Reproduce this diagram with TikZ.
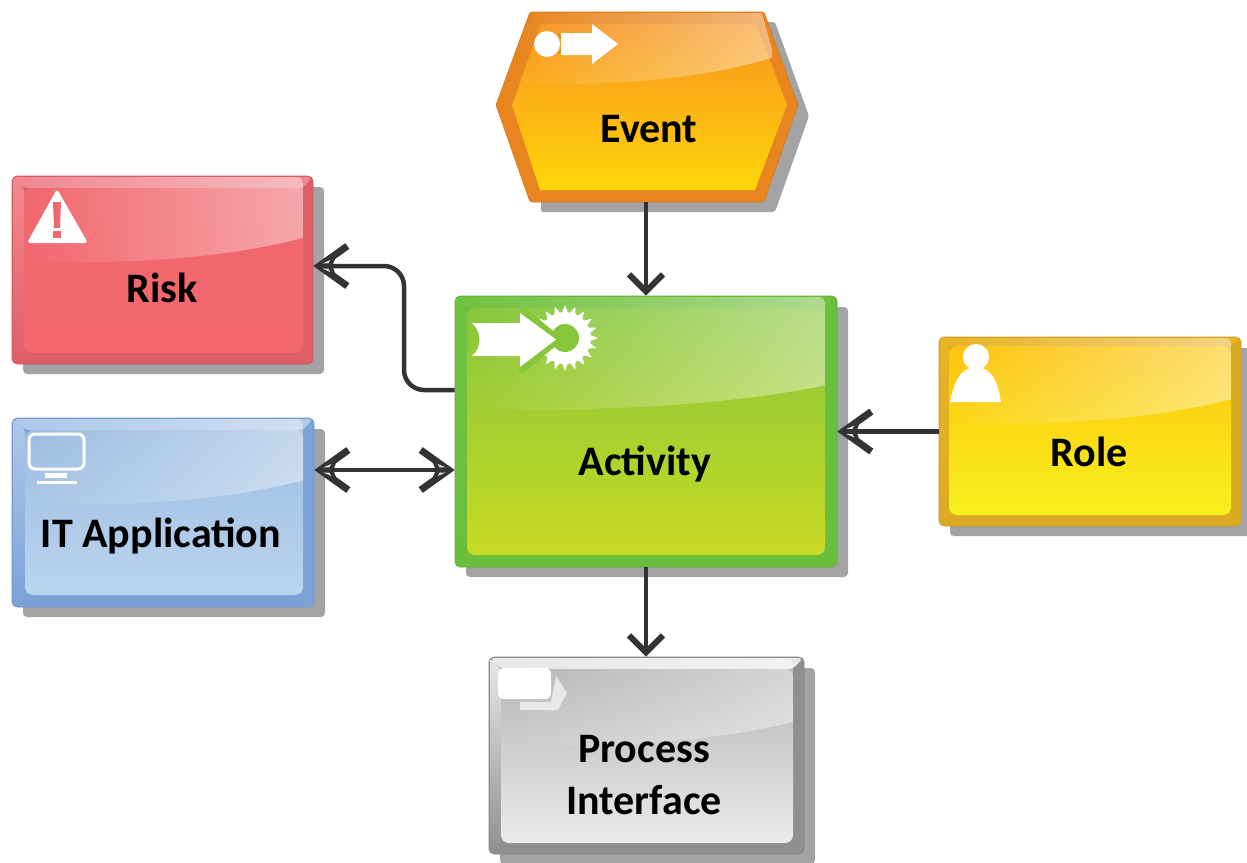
\documentclass[tikz,border=0pt]{standalone}
\usepackage{fontspec}
\setmainfont{Carlito}
\usetikzlibrary{arrows.meta,fadings,calc}
\definecolor{shadowC}{HTML}{A3A3A5}
\definecolor{lineC}{HTML}{333335}
% border, top strip, inner top, inner bottom
\definecolor{riskB}{HTML}{DD5F67}\definecolor{riskS}{HTML}{F08A90}\definecolor{riskU}{HTML}{F0686F}\definecolor{riskL}{HTML}{F2666C}
\definecolor{itB}{HTML}{7AA2D6}\definecolor{itS}{HTML}{AEC9E9}\definecolor{itU}{HTML}{9CBDE1}\definecolor{itL}{HTML}{BBD4EE}
\definecolor{actB}{HTML}{69BE3D}\definecolor{actS}{HTML}{72C240}\definecolor{actU}{HTML}{86C63A}\definecolor{actL}{HTML}{C9DA24}
\definecolor{roleB}{HTML}{DBAA22}\definecolor{roleS}{HTML}{E8B428}\definecolor{roleU}{HTML}{FDC40E}\definecolor{roleL}{HTML}{F8F11E}
\definecolor{pifB}{HTML}{8F8F8F}\definecolor{pifS}{HTML}{E8E8E8}\definecolor{pifU}{HTML}{B6B6B6}\definecolor{pifL}{HTML}{EBEBEB}
\definecolor{evB}{HTML}{E8851E}\definecolor{evS}{HTML}{F39A30}\definecolor{evU}{HTML}{F7931E}\definecolor{evL}{HTML}{FFD60A}
\tikzfading[name=glossfade,left color=transparent!100,middle color=transparent!78,right color=transparent!0]
\tikzset{
  x=1pt,y=-1pt,
  label text/.style={font=\bfseries\fontsize{42}{52}\selectfont,text=black,inner sep=0pt,align=center},
  conn/.style={draw=lineC,line width=4.5pt},
  hbarb/.tip={Straight Barb[length=28pt,width=40pt,line width=7pt]},
  vbarb/.tip={Straight Barb[length=17pt,width=34pt,line width=6pt]},
  shell/.style={rectangle,inner sep=0pt,rounded corners=5pt,draw=#1B!92!black,line width=0.6pt,fill=#1B},
  glossy/.style={fill=white,fill opacity=0.42,path fading=glossfade},
}
% name, outer x0 y0 x1 y1, inner x0 y0 x1 y1
\newcommand{\gbox}[9]{%
  \pgfmathsetmacro{\bw}{#4-#2}\pgfmathsetmacro{\bh}{#5-#3}%
  \pgfmathsetmacro{\cx}{(#2+#4)/2}\pgfmathsetmacro{\cy}{(#3+#5)/2}%
  \pgfmathsetmacro{\gy}{#3+0.33*\bh}%
  \pgfmathsetmacro{\gw}{#8-#6}%
  \fill[shadowC,rounded corners=4pt] (#2+11,#3+11) rectangle (#4+11,#5+10);
  \node[shell=#1,minimum width=\bw pt,minimum height=\bh pt] (#1) at (\cx,\cy) {};
  \fill[#1S,rounded corners=4pt] (#2+1,#3+1) -- (#4-1,#3+1) -- (#8,#7) -- (#6,#7) -- cycle;
  \shade[top color=#1S,bottom color=#1B,rounded corners=3pt] (#2+1,#3+1) -- (#6,#7) -- (#6,#9) -- (#2+1,#5-1) -- cycle;
  \shade[top color=#1U,bottom color=#1L,rounded corners=8pt] (#6,#7) rectangle (#8,#9);
  \begin{scope}
    \clip[rounded corners=6pt] (#6,#3+1) rectangle (#8,#9);
    \fill[glossy] (#6,#3) -- (#8,#3) -- (#8,\gy)
      .. controls (#8-0.28*\gw,\gy+20) and (#8-0.6*\gw,\gy+26) .. (#6,\gy+24) -- cycle;
  \end{scope}
}
% solid root of a sideways arrow head with its thin light slits: tip at #1, rotated by #2
\newcommand{\headroot}[2]{%
  \begin{scope}[shift={(#1)},rotate=#2]
    \fill[lineC] (2,0) -- (24,-13) -- (19,0) -- (24,13) -- cycle;
    \fill[white!85!lineC] (9,-2.6) -- (17,-6) -- (15,-2.6) -- cycle;
    \fill[white!85!lineC] (9,2.6) -- (17,6) -- (15,2.6) -- cycle;
  \end{scope}
}
\begin{document}
\begin{tikzpicture}
\useasboundingbox (0,0) rectangle (1247,862);
\fill[white] (0,0) rectangle (1247,862);

% Event (hexagon)
\fill[shadowC,rounded corners=2pt] (541,22) -- (775,22) -- (809,116) -- (775,212) -- (541,212) -- cycle;
\node[rectangle,minimum width=302pt,minimum height=190pt,inner sep=0pt] (ev) at (647,107) {};
\fill[evB,draw=evB!92!black,line width=0.6pt,rounded corners=1.5pt] (530,12) -- (764,12) -- (798,105) -- (764,202) -- (530,202) -- (496,105) -- cycle;
\shade[top color=evU,bottom color=evL] (541,24) -- (756,24) -- (787,105) -- (755,190) -- (540,190) -- (512,105) -- cycle;
\begin{scope}
  \clip (532,13) -- (762,13) -- (787,105) -- (512,105) -- cycle;
  \fill[glossy] (512,12) -- (772,12) -- (772,58) .. controls (710,76) and (640,86) .. (512,84) -- cycle;
\end{scope}
\fill[white] (547,44) circle[radius=13];
\draw[evB,line width=1.5pt] (558,34) arc[start angle=-50,end angle=50,radius=13];
\fill[white] (561,33) -- (592,33) -- (592,24) -- (618,44) -- (592,64) -- (592,55) -- (561,55) -- cycle;
\node[label text,anchor=base] (evT) at (649,142) {Event};

% Risk
\gbox{risk}{12}{176}{313}{364}{24}{188}{303}{353}
\fill[white,rounded corners=3pt] (57,189) -- (88,243) -- (27,243) -- cycle;
\fill[riskU] (53,202) -- (61,202) -- (60,228) -- (54,228) -- cycle;
\fill[riskU] (53,231) rectangle (61,238);
\node[label text,anchor=base] (riskT) at (162,302) {Risk};

% IT Application
\gbox{it}{12}{418}{314}{607}{25}{430}{303}{595}
\draw[white,line width=3pt,rounded corners=6pt] (29,434) rectangle (84,469);
\fill[white] (45,473) rectangle (67,478);
\fill[white] (37,481) rectangle (77,484);
\node[label text,anchor=base] (itT) at (161,547) {IT Application};

% Activity
\gbox{act}{455}{296}{837}{567}{467}{308}{825}{555}
\begin{scope}[shift={(565,338)}]
  \fill[white] (0,0) circle[radius=26];
  \foreach \a in {0,18,...,342}{\fill[white] (\a-7:25) -- (\a:33) -- (\a+7:25) -- cycle;}
  \fill[actU] (0,0) circle[radius=14];
\end{scope}
\draw[actU,line width=7pt,line join=round] (520,308) -- (558,339.5) -- (520,371);
\fill[white] (472,323) .. controls (482,331) and (482,348) .. (472,356) -- (520,356) -- (520,367) -- (556,339.5) -- (520,313) -- (520,323) -- cycle;
\node[label text,anchor=base] (actT) at (645,475) {Activity};

% Role
\gbox{role}{939}{337}{1241}{526}{949}{346}{1231}{515}
\fill[white] (976,357) circle[radius=13];
\fill[white] (950,402) .. controls (954,385) and (958,368) .. (976,367) .. controls (994,368) and (998,385) .. (1001,402) -- cycle;
\node[label text,anchor=base] (roleT) at (1089,466) {Role};

% Process Interface
\gbox{pif}{489}{657}{804}{854}{501}{669}{793}{843}
\fill[pifS] (556,676) -- (567,693) -- (558,710) -- (520,710) -- (520,702) -- (551,702) -- cycle;
\fill[white,rounded corners=6pt] (498,668) rectangle (551,699);
\node[label text] (pifT) at (644,775) {Process\\Interface};

% Connectors
\coordinate (riskIn) at (risk.east |- 0,266);
\coordinate (actOut) at (act.west |- 0,390);
\coordinate (bend) at (404,0);
\coordinate (itPort) at (it.east |- 0,470);
\coordinate (actPort) at (act.west |- itPort);
\draw[conn,-{vbarb}] (ev.south -| act.north) -- (act.north);
\draw[conn,-{vbarb}] (act.south) -- (pif.north -| act.south);
\draw[conn,-{hbarb}] (role.west) -- (act.east);
\draw[conn,{hbarb}-{hbarb}] (itPort) -- (actPort);
\draw[conn,-{hbarb},rounded corners=20pt] (actOut) -- (bend |- actOut) -- (bend |- riskIn) -- (riskIn);
\headroot{act.east}{0}
\headroot{itPort}{0}
\headroot{actPort}{180}
\headroot{riskIn}{0}
\end{tikzpicture}
\end{document}
